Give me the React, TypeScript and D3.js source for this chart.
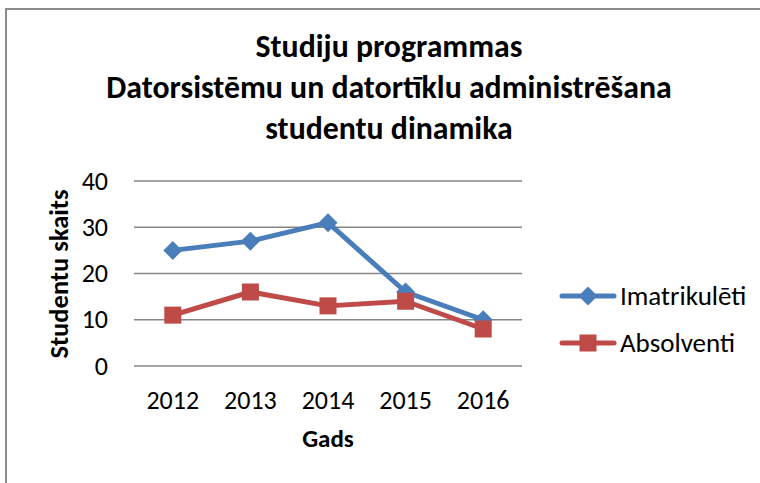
import React from "react";
import * as d3 from "d3";

const years = ["2012", "2013", "2014", "2015", "2016"];
const imatrikuleti = [25, 27, 31, 16, 10];
const absolventi = [11, 16, 13, 14, 8];
const yTicks = [0, 10, 20, 30, 40];
const titleLines = [
  "Studiju programmas",
  "Datorsistēmu un datortīklu administrēšana",
  "studentu dinamika",
];
const seriesNames = ["Imatrikulēti", "Absolventi"];

const FONT = "Carlito, Calibri, 'Open Sans', 'Noto Sans', sans-serif";

export default function App() {
  const W = 760, H = 483;
  const x = d3.scaleBand().domain(years).range([134, 522]);
  const y = d3.scaleLinear().domain([0, 40]).range([366, 181]);
  const cx = (c: string) => (x(c) as number) + x.bandwidth() / 2;
  const line = d3.line<number>().x((_, i) => cx(years[i])).y((d) => y(d));
  const blue = "#4a7ebb";
  const red = "#be4b48";
  const diamond = (px: number, py: number, r = 9.5) =>
    `M${px},${py - r}L${px + r},${py}L${px},${py + r}L${px - r},${py}Z`;
  const sq = 17;

  return (
    <svg width={W} height={H} style={{ position: "absolute", left: 0, top: 0 }}>
      <rect x={0} y={0} width={W} height={H} fill="#fff" />
      <rect x={6} y={9} width={W + 10} height={H + 10} fill="#fff" stroke="#8c8c8c" strokeWidth={2} />
      {titleLines.map((t, i) => (
        <text key={i} x={389} y={57 + i * 41} textAnchor="middle" fontFamily={FONT} fontWeight="bold" fontSize={31.8} fill="#000">
          {t}
        </text>
      ))}
      {yTicks.map((t) => (
        <g key={t}>
          <line x1={134} x2={522} y1={y(t)} y2={y(t)} stroke="#868686" strokeWidth={1.3} />
          <text x={108} y={y(t) + 8.5} textAnchor="end" fontFamily={FONT} fontSize={26} fill="#000">{t}</text>
        </g>
      ))}
      {years.map((c) => (
        <text key={c} x={cx(c)} y={409} textAnchor="middle" fontFamily={FONT} fontSize={26} fill="#000">{c}</text>
      ))}
      <text x={328} y={447} textAnchor="middle" fontFamily={FONT} fontWeight="bold" fontSize={25}>Gads</text>
      <text transform={`translate(68,274) rotate(-90)`} textAnchor="middle" fontFamily={FONT} fontWeight="bold" fontSize={26.5}>Studentu skaits</text>
      <path d={line(imatrikuleti) || ""} fill="none" stroke={blue} strokeWidth={5} strokeLinejoin="round" />
      {imatrikuleti.map((v, i) => (
        <path key={i} d={diamond(cx(years[i]), y(v))} fill={blue} />
      ))}
      <path d={line(absolventi) || ""} fill="none" stroke={red} strokeWidth={5} strokeLinejoin="round" />
      {absolventi.map((v, i) => (
        <rect key={i} x={cx(years[i]) - sq / 2} y={y(v) - sq / 2} width={sq} height={sq} fill={red} />
      ))}
      {seriesNames.map((n, i) => {
        const ly = 296 + i * 47;
        const col = i === 0 ? blue : red;
        return (
          <g key={n}>
            <line x1={562} x2={614} y1={ly} y2={ly} stroke={col} strokeWidth={5} strokeLinecap="round" />
            {i === 0 ? <path d={diamond(588, ly)} fill={col} /> : <rect x={588 - sq / 2} y={ly - sq / 2} width={sq} height={sq} fill={col} />}
            <text x={620} y={ly + 9} fontFamily={FONT} fontSize={27} fill="#000">{n}</text>
          </g>
        );
      })}
    </svg>
  );
}
